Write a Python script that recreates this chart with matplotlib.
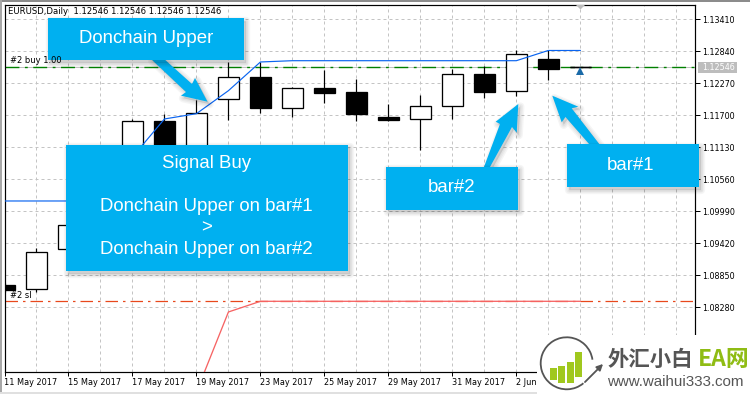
import matplotlib
matplotlib.use("Agg")
import matplotlib.pyplot as plt
from matplotlib.patches import Polygon, Rectangle, Arc

# candles: index 0 is 11 May 2017, skipping weekends
opens = [1.08681, 1.08604, 1.09322, 1.09744, 1.11085, 1.11602, 1.10996, 1.11994, 1.12386, 1.11825,
         1.12190, 1.12119, 1.11673, 1.11632, 1.11864, 1.12439, 1.12131, 1.12706, 1.12558]
closes = [1.08592, 1.09263, 1.09744, 1.10300, 1.11597, 1.10910, 1.11736, 1.12377, 1.11825, 1.12181,
          1.12101, 1.11727, 1.11625, 1.11864, 1.12434, 1.12124, 1.12790, 1.12534, 1.12558]
highs = [1.08720, 1.09340, 1.09874, 1.10400, 1.11638, 1.11727, 1.11976, 1.12653, 1.12653, 1.12208,
         1.12510, 1.12350, 1.11905, 1.12065, 1.12528, 1.12582, 1.12858, 1.12858, 1.12558]
lows = [1.08550, 1.08556, 1.09304, 1.09700, 1.10910, 1.10818, 1.10943, 1.11611, 1.11744, 1.11673,
        1.11923, 1.11602, 1.11602, 1.11085, 1.11638, 1.12017, 1.12047, 1.12332, 1.12558]

donchian_upper = [1.10177, 1.10177, 1.10177, 1.10462, 1.10961, 1.11638, 1.11732, 1.12142, 1.12653, 1.12676,
                  1.12676, 1.12676, 1.12676, 1.12676, 1.12676, 1.12676, 1.12676, 1.12858, 1.12858]
lower_x = [6, 7, 8, 18]
lower_y = [1.06775, 1.08200, 1.08390, 1.08390]

bid = 1.12558  # where the line sits on screen, the label reads 1.12546
bid_label = "1.12546"
stop_loss = 1.08390
y_ticks = [1.13410, 1.12840, 1.12270, 1.11700, 1.11130, 1.10560, 1.09990, 1.09420, 1.08850, 1.08280]
x_ticks = [0, 2, 4, 6, 8, 10, 12, 14, 16]
x_labels = ["11 May 2017", "15 May 2017", "17 May 2017", "19 May 2017", "23 May 2017",
            "25 May 2017", "29 May 2017", "31 May 2017", "2 Jun 2017"]

W, H = 750, 394
CYAN = "#00B0F0"
PX = 0.72
TICK_FONT = "DejaVu Sans"

fig = plt.figure(figsize=(W / 100, H / 100), dpi=100)
ax = fig.add_axes([4.5 / W, 1 - 371.7 / H, (695 - 4.5) / W, (371.7 - 4.5) / H])
ax.set_xlim(0.006, 21.585)
ax.set_ylim(1.07136, 1.13677)

ax.set_xticks(range(1, 22), minor=True)
ax.set_xticks(x_ticks)
ax.set_xticklabels(x_labels, fontsize=5.9, family=TICK_FONT, ha="left")
ax.set_yticks(y_ticks)
ax.set_yticklabels(["%.5f" % v for v in y_ticks], fontsize=5.8, family=TICK_FONT)
ax.yaxis.tick_right()
ax.tick_params(axis="y", length=3.6, width=PX, pad=1.5)
ax.tick_params(axis="x", which="major", length=2.9, width=PX, pad=1.5)
ax.tick_params(axis="x", which="minor", length=0)
for s in ax.spines.values():
    s.set_linewidth(PX * 1.2)
ax.set_axisbelow(True)
grid_style = dict(color="#c4c4c4", lw=PX, ls=(0, (3, 3)))
ax.grid(True, axis="both", which="major", **grid_style)
ax.grid(True, axis="x", which="minor", **grid_style)

ax.axhline(bid, color="#c0c0c0", lw=PX, zorder=1)
ax.axhline(bid, color="#008000", lw=1.0, ls=(0, (10, 4, 2, 4)), zorder=1.5)
ax.axhline(stop_loss, color="#e8481c", lw=0.9, ls=(0, (10, 4, 2, 4)), zorder=1.5)

for i in range(len(opens)):
    ax.vlines(i, lows[i], highs[i], color="black", lw=PX * 1.2, zorder=2)
    up = closes[i] >= opens[i]
    ax.bar(i, closes[i] - opens[i], bottom=opens[i], width=0.66, color="white" if up else "black",
           edgecolor="black", lw=PX * 1.3, zorder=3)
ax.hlines(bid, 17.67, 18.33, color="black", lw=1.0, zorder=3)

ax.plot(range(len(donchian_upper)), donchian_upper, color="#0a64f0", lw=0.85, zorder=4)
ax.plot(lower_x, lower_y, color="#f66464", lw=0.95, zorder=4)
ax.vlines(18, bid - 0.00125, bid - 0.0007, color="#1a6aa8", lw=1.6, zorder=5)
ax.plot(18, bid - 0.0007, marker="^", ms=5.5, color="#1a6aa8", mew=0, zorder=5)

# overlay in pixel coordinates for the hand drawn notes on top of the chart
top = fig.add_axes([0, 0, 1, 1], zorder=10)
top.set_xlim(0, W)
top.set_ylim(H, 0)
top.axis("off")
top.patch.set_alpha(0)


def callout(points):
    for lw in (6, 4, 2):
        top.add_patch(Polygon([(x + 2, y + 2.5) for x, y in points], fc="black", ec="black", lw=lw,
                              alpha=0.04, joinstyle="round"))
    top.add_patch(Polygon(points, fc=CYAN, ec="none"))


def box(x0, y0, x1, y1):
    callout([(x0, y0), (x1, y0), (x1, y1), (x0, y1)])


top.text(8, 11.5, "EURUSD,Daily  1.12546 1.12546 1.12546 1.12546", fontsize=6.1, family=TICK_FONT, va="center")
top.text(10, 60.5, "#2 buy 1.00", fontsize=6, family=TICK_FONT, va="center")
top.text(10, 296, "#2 sl", fontsize=6, family=TICK_FONT, va="center")
top.add_patch(Rectangle((698, 62), 39, 10.5, fc="#bdbdbd", ec="none"))
top.text(702, 67.5, bid_label, fontsize=5.8, family=TICK_FONT, color="white", va="center")
top.add_patch(Polygon([(576, 5), (585, 5), (580.5, 9.5)], fc="#bdbdbd", ec="none"))

callout([(163, 58), (192, 84), (195, 78), (207.5, 101.7), (181, 95.7), (186, 92), (150, 58)])
box(48, 18, 244, 60)
callout([(484, 167), (500, 124), (495.7, 121.7), (518.3, 104), (516.7, 132.7), (512, 127), (490, 167)])
box(385.7, 166.5, 518.3, 209.5)
callout([(600, 145), (571.7, 108.3), (578.3, 106.7), (552.3, 95.7), (561.7, 122.3), (565.5, 117), (590, 145)])
box(566.7, 144.3, 699, 187.3)
box(65.5, 144.5, 348, 271)

note_style = dict(color="white", family="Liberation Sans", fontsize=13.4, ha="center", va="center")
top.text(146, 38, "Donchain Upper", **note_style)
top.text(206.5, 163, "Signal Buy", **note_style)
top.text(206.5, 206.5, "Donchain Upper on bar#1", **note_style)
top.text(206.5, 228, ">", **note_style)
top.text(206.5, 249.5, "Donchain Upper on bar#2", **note_style)
top.text(451.5, 187, "bar#2", **note_style)
top.text(631, 165.5, "bar#1", **note_style)

# window frame
top.add_patch(Rectangle((0, 0), W, 1.5, fc="#8c8c8c", ec="none"))
top.add_patch(Rectangle((0, 0), 2, H, fc="#a8a8a8", ec="none"))
top.add_patch(Rectangle((0, 391.5), W, 3, fc="#e0e0e0", ec="none"))

# watermark
top.add_patch(Rectangle((537, 335), W - 537, H - 335, fc="white", ec="none"))
top.add_patch(Arc((566.7, 363.3), 52, 52, theta1=50, theta2=352, color="#555555", lw=1.3))
logo_bars = [(550, 368, 380), (558, 365.7, 382.7), (567, 361.7, 383), (575, 352, 377)]
for x0, y0, y1 in logo_bars:
    top.add_patch(Rectangle((x0, y0), 6.5, y1 - y0, fc="#a0c81e", ec="none"))
top.annotate("", xy=(605, 362), xytext=(583, 384),
             arrowprops=dict(arrowstyle="-|>", color="#555555", lw=1.3, mutation_scale=9))
top.text(608, 359, "外汇小白", family="Noto Sans CJK SC", fontweight="bold", fontsize=15.4, color="#555555",
         va="center")
top.text(698, 359, "EA网", family="Noto Sans CJK SC", fontweight="bold", fontsize=16.5, color="#8fbc14",
         va="center")
top.text(607, 381.5, "www.waihui333.com", family="Liberation Sans", fontsize=10.9, color="#555555",
         va="center")

fig.savefig("out.png", dpi=100)
